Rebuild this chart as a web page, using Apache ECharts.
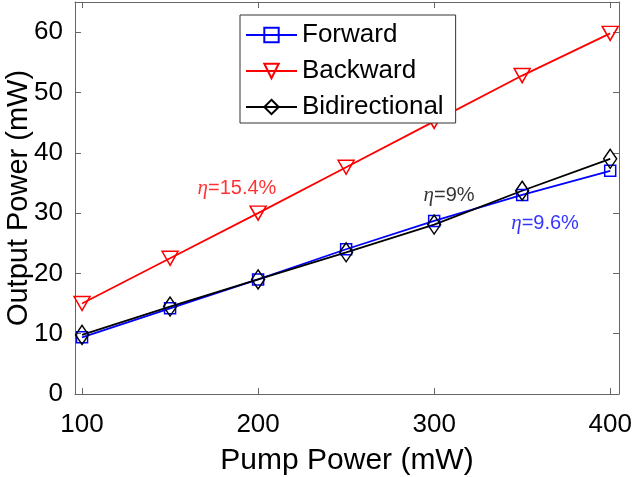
<!DOCTYPE html>
<html>
<head>
<meta charset="utf-8">
<script src="https://cdn.jsdelivr.net/npm/echarts@6/dist/echarts.min.js"></script>
<style>
  html, body { margin: 0; padding: 0; background: #fff; }
  #main { width: 633px; height: 477px; }
</style>
</head>
<body>
<div id="main"></div>
<script>
var pump = [100, 150, 200, 250, 300, 350, 400];
var forward = [9.4, 14.2, 19.0, 24.0, 28.7, 33.0, 37.0];
var backward = [15.0, 22.5, 30.0, 37.6, 45.2, 52.8, 59.8];
var bidir = [9.8, 14.5, 19.0, 23.5, 28.1, 33.7, 39.0];
var xTicks = [100, 200, 300, 400];
var yTicks = [0, 10, 20, 30, 40, 50, 60];

// efficiency notes: text, position (data units), colour
var noteText = ['15.4%', '9%', '9.6%'];
var noteX = [188, 308.5, 363];
var noteY = [34.0, 33.0, 28.2];
var noteColor = ['#ff0000', '#000000', '#0000ff'];

var font = 'Liberation Sans, Arial, Helvetica, sans-serif';
var axisGray = '#666';

function pairs(ys) {
  return pump.map(function (x, i) { return [x, ys[i]]; });
}

function lineSeries(name, ys, color, symbol, size, rotate) {
  return {
    name: name,
    type: 'line',
    data: pairs(ys),
    symbol: symbol,
    symbolSize: size,
    symbolRotate: rotate || 0,
    showAllSymbol: true,
    lineStyle: { color: color, width: 1.8 },
    itemStyle: { color: 'rgba(255,255,255,0)', borderColor: color, borderWidth: 1.5 },
    emphasis: { disabled: true },
    z: 3
  };
}

var notes = noteText.map(function (t, i) {
  return {
    value: [noteX[i], noteY[i]],
    label: {
      show: true,
      position: 'inside',
      formatter: '{eta|η}{t|=' + t + '}',
      rich: {
        eta: { fontFamily: 'Liberation Serif, Times New Roman, serif', fontStyle: 'italic', fontSize: 21, color: noteColor[i] },
        t: { fontFamily: font, fontSize: 20, color: noteColor[i] }
      }
    }
  };
});

var chart = echarts.init(document.getElementById('main'));

chart.setOption({
  animation: false,
  backgroundColor: '#fff',
  textStyle: { fontFamily: font },
  grid: { left: 75, right: 14, top: 2, bottom: 83, outerBoundsMode: 'none', containLabel: false },
  legend: {
    data: ['Forward', 'Backward', 'Bidirectional'],
    orient: 'vertical',
    left: 240,
    top: 15,
    padding: [7, 12, 3, 5],
    itemWidth: 51,
    itemHeight: 18,
    itemGap: 10,
    backgroundColor: '#fff',
    borderColor: '#333',
    borderWidth: 1,
    borderRadius: 0,
    textStyle: { fontFamily: font, fontSize: 26, color: '#000' },
    selectedMode: false
  },
  xAxis: [{
    type: 'value',
    min: 96,
    max: 405,
    name: 'Pump Power (mW)',
    nameLocation: 'middle',
    nameGap: 52,
    nameMoveOverlap: false,
    nameTextStyle: { fontFamily: font, fontSize: 30, color: '#000' },
    axisLine: { show: true, lineStyle: { color: axisGray, width: 1 } },
    axisTick: { show: true, inside: true, length: 6, customValues: xTicks, lineStyle: { color: axisGray } },
    axisLabel: { customValues: xTicks, margin: 18, fontFamily: font, fontSize: 26, color: '#000' },
    splitLine: { show: false }
  }, {
    type: 'value',
    position: 'top',
    min: 96,
    max: 405,
    axisLine: { show: true, onZero: false, lineStyle: { color: axisGray, width: 1 } },
    axisTick: { show: true, inside: true, length: 6, customValues: xTicks, lineStyle: { color: axisGray } },
    axisLabel: { show: false },
    splitLine: { show: false }
  }],
  yAxis: [{
    type: 'value',
    min: 0,
    max: 65,
    name: 'Output Power (mW)',
    nameLocation: 'middle',
    nameGap: 42,
    nameMoveOverlap: false,
    nameTextStyle: { fontFamily: font, fontSize: 29, color: '#000' },
    axisLine: { show: true, lineStyle: { color: axisGray, width: 1 } },
    axisTick: { show: true, inside: true, length: 6, customValues: yTicks, lineStyle: { color: axisGray } },
    axisLabel: { customValues: yTicks, margin: 12, fontFamily: font, fontSize: 26, color: '#000' },
    splitLine: { show: false }
  }, {
    type: 'value',
    position: 'right',
    min: 0,
    max: 65,
    axisLine: { show: true, onZero: false, lineStyle: { color: axisGray, width: 1 } },
    axisTick: { show: true, inside: true, length: 6, customValues: yTicks, lineStyle: { color: axisGray } },
    axisLabel: { show: false },
    splitLine: { show: false }
  }],
  series: [
    lineSeries('Forward', forward, '#0000ff', 'rect', 11),
    lineSeries('Backward', backward, '#ff0000', 'triangle', [16, 14], 180),
    lineSeries('Bidirectional', bidir, '#000000', 'diamond', [13, 19]),
    {
      name: 'notes',
      type: 'scatter',
      data: notes,
      symbolSize: 0,
      silent: true,
      z: 4
    }
  ]
});
</script>
</body>
</html>
